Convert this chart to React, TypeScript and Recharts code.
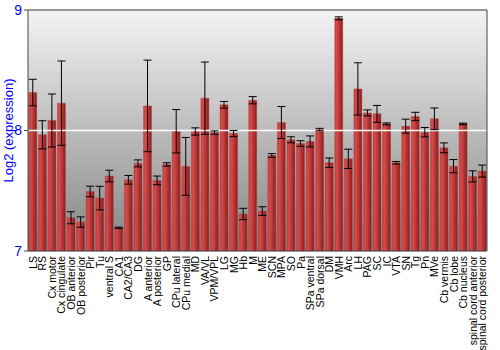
import { BarChart, Bar, XAxis, YAxis, CartesianGrid, ErrorBar, ReferenceLine } from "recharts"

const regions = [
    "LS", "RS", "Cx motor", "Cx cingulate", "OB anterior", "OB posterior", "Pir", "Tu",
    "ventral S", "CA1", "CA2/CA3", "DG", "A anterior", "A posterior", "GP", "CPu lateral",
    "CPu medial", "MD", "VA/VL", "VPM/VPL", "LG", "MG", "Hb", "M", "ME", "SCN", "MPA", "SO",
    "Pa", "SPa ventral", "SPa dorsal", "DM", "VMH", "Arc", "LH", "PAG", "SC", "IC", "VTA",
    "SN", "Tg", "Pn", "MVe", "Cb vermis", "Cb lobe", "Cb nucleus", "spinal cord anterior",
    "spinal cord posterior",
]

const expression = [
    8.315, 7.964, 8.083, 8.227, 7.276, 7.24, 7.494, 7.439,
    7.622, 7.193, 7.591, 7.727, 8.204, 7.586, 7.718, 7.994,
    7.702, 7.992, 8.268, 7.983, 8.213, 7.975, 7.307, 8.251, 7.331, 7.793, 8.066, 7.923,
    7.892, 7.909, 8.008, 7.732, 8.931, 7.765, 8.345, 8.146, 8.138, 8.055, 7.732,
    8.036, 8.116, 7.986, 8.097, 7.856, 7.704, 8.055, 7.619,
    7.663,
]

const stdError = [
    0.11, 0.117, 0.22, 0.35, 0.05, 0.043, 0.044, 0.098,
    0.048, 0.005, 0.036, 0.029, 0.38, 0.036, 0.014, 0.18,
    0.24, 0.03, 0.3, 0.014, 0.028, 0.026, 0.047, 0.03, 0.036, 0.015, 0.133, 0.025,
    0.023, 0.046, 0.01, 0.04, 0.012, 0.08, 0.217, 0.025, 0.07, 0.008, 0.011,
    0.058, 0.035, 0.039, 0.09, 0.041, 0.055, 0.006, 0.046,
    0.05,
]

const yTicks = [7, 8, 9]

const data = regions.map((name, i) => ({ name, value: expression[i], err: stdError[i] }))

const font = "Arial, 'Liberation Sans', sans-serif"

const XTick = (props: any) => {
    const { x, y, payload } = props
    return (
        <text
            x={x + 4}
            y={y - 3}
            transform={`rotate(-90, ${x + 4}, ${y - 3})`}
            textAnchor="end"
            fontSize={10.5}
            fontFamily={font}
            fill="#000"
        >
            {payload.value}
        </text>
    )
}

// y axis title, centred on the plot height
const YTitle = (props: any) => {
    const vb = props.viewBox || {}
    const cy = (vb.y ?? 10) + (vb.height ?? 241) / 2
    return (
        <text
            x={13}
            y={cy}
            transform={`rotate(-90, 13, ${cy})`}
            textAnchor="middle"
            fontSize={13}
            fontFamily={font}
            fill="#0000ff"
        >
            Log2 (expression)
        </text>
    )
}

export default function App() {
    return (
        <div style={{ position: "absolute", left: 0, top: 0, width: 500, height: 350, background: "#fff" }}>
            <BarChart
                width={500}
                height={350}
                data={data}
                margin={{ top: 10, right: 0, left: 0, bottom: 0 }}
                barCategoryGap="8%"
            >
                <defs>
                    <linearGradient id="bg" x1="0" y1="0" x2="0" y2="1">
                        <stop offset="0%" stopColor="#f4f4f4" />
                        <stop offset="100%" stopColor="#848484" />
                    </linearGradient>
                    <linearGradient id="barFill" x1="0" y1="0" x2="1" y2="0">
                        <stop offset="0%" stopColor="#c63c3c" />
                        <stop offset="25%" stopColor="#d64a4a" />
                        <stop offset="100%" stopColor="#8a1e1e" />
                    </linearGradient>
                </defs>
                <CartesianGrid fill="url(#bg)" horizontal={false} vertical={false} yAxisId="left" />
                <XAxis
                    dataKey="name"
                    interval={0}
                    height={99}
                    tick={<XTick />}
                    tickLine={false}
                    axisLine={{ stroke: "#444" }}
                />
                <YAxis
                    yAxisId="left"
                    domain={[7, 9]}
                    ticks={yTicks}
                    width={28}
                    tick={{ fill: "#0000ff", fontSize: 14, fontFamily: font }}
                    tickSize={4}
                    tickLine={{ stroke: "#444" }}
                    axisLine={{ stroke: "#444" }}
                    label={{ content: <YTitle /> }}
                />
                <YAxis
                    yAxisId="right"
                    orientation="right"
                    domain={[7, 9]}
                    ticks={yTicks}
                    width={13}
                    tick={{ fill: "#0000ff", fontSize: 14, fontFamily: font }}
                    tickSize={3}
                    tickLine={{ stroke: "#444" }}
                    axisLine={{ stroke: "#444" }}
                />
                <ReferenceLine yAxisId="left" y={8} stroke="#ffffff" strokeWidth={1.5} />
                <ReferenceLine yAxisId="left" y={9} stroke="#777" strokeWidth={1.5} />
                <Bar yAxisId="left" dataKey="value" fill="url(#barFill)" stroke="#b04040" strokeOpacity={0.4} isAnimationActive={false}>
                    <ErrorBar dataKey="err" width={4} stroke="#000" strokeWidth={1} isAnimationActive={false} />
                </Bar>
            </BarChart>
        </div>
    )
}
